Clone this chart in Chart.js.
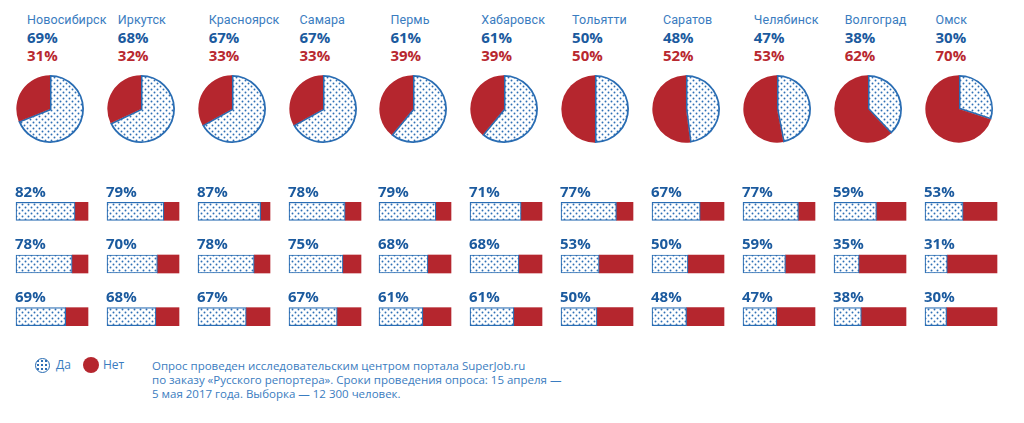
<!DOCTYPE html>
<html><head><meta charset="utf-8">
<script src="https://cdn.jsdelivr.net/npm/chart.js@4/dist/chart.umd.min.js"></script>
<style>
body{margin:0;background:#fff;width:1024px;height:423px;overflow:hidden;position:relative;font-family:"Open Sans","Noto Sans",sans-serif;}
.abs{position:absolute;}
.city{font-family:Roboto,"Open Sans",sans-serif;font-size:12.5px;color:#3a7cc0;white-space:nowrap;line-height:16px;letter-spacing:0.1px;}
.py{font-size:15px;font-weight:700;color:#1b5a9e;line-height:18px;}
.pn{font-size:15px;font-weight:700;color:#b8282f;line-height:18px;}
.note{font-size:11.5px;color:#3a7cc0;line-height:14px;white-space:nowrap;}
.leg{font-size:12px;color:#3a7cc0;line-height:14px;}
</style></head><body>
<script>
const cities = ['Новосибирск','Иркутск','Красноярск','Самара','Пермь','Хабаровск','Тольятти','Саратов','Челябинск','Волгоград','Омск'];
const pieYes = [69,68,67,67,61,61,50,48,47,38,30];
const pieNo  = [31,32,33,33,39,39,50,52,53,62,70];
const barRow1 = [82,79,87,78,79,71,77,67,77,59,53];
const barRow2 = [78,70,78,75,68,68,53,50,59,35,31];
const barRow3 = [69,68,67,67,61,61,50,48,47,38,30];
const legendLabels = ['Да','Нет'];

const BLUE = '#2a6db3', RED = '#b5262e';
function makePattern(){
  const c = document.createElement('canvas'); c.width = 6; c.height = 6;
  const g = c.getContext('2d');
  g.fillStyle = '#fff'; g.fillRect(0,0,6,6);
  g.fillStyle = '#2f6fb5';
  [[1.5,1.5],[4.5,4.5]].forEach(p=>{g.beginPath();g.arc(p[0],p[1],0.95,0,Math.PI*2);g.fill();});
  return g.createPattern(c,'repeat');
}
const pat = makePattern();

function el(tag, cls, x, y, txt){
  const d = document.createElement(tag); d.className = 'abs ' + cls;
  d.style.left = x + 'px'; d.style.top = y + 'px';
  if (txt !== undefined) d.textContent = txt;
  document.body.appendChild(d); return d;
}

const step = 90.85;
const labelPlugin = {
  id:'lbl',
  afterDatasetsDraw(chart){
    const ctx = chart.ctx; const meta = chart.getDatasetMeta(0);
    ctx.save(); ctx.font = '700 15px "Open Sans", sans-serif'; ctx.fillStyle = '#1b5a9e';
    ctx.textBaseline = 'middle'; ctx.textAlign = 'left';
    meta.data.forEach((b,i)=>{
      const v = chart.data.datasets[0].data[i];
      ctx.fillText(v + '%', chart.chartArea.left - 1, b.y - 19);
    });
    ctx.restore();
  }
};

cities.forEach((name,i)=>{
  const x0 = 16 + i*step;
  el('div','city', x0 + 11, 12, name);
  el('div','py', x0 + 11, 28, pieYes[i] + '%');
  el('div','pn', x0 + 11, 46, pieNo[i] + '%');

  const pc = el('canvas','', x0 - 2, 73); pc.width = 72; pc.height = 72;
  pc.style.width='72px'; pc.style.height='72px';
  new Chart(pc, {
    type:'pie',
    data:{labels:legendLabels, datasets:[{data:[pieYes[i], pieNo[i]], backgroundColor:[pat, RED], borderColor:[BLUE, RED], borderWidth:[1.5,0], borderAlign:'inner'}]},
    options:{responsive:false, animation:false, layout:{padding:2}, plugins:{legend:{display:false}, tooltip:{enabled:false}}}
  });

  const bc = el('canvas','', x0 - 1, 185); bc.width = 74; bc.height = 158;
  bc.style.width='74px'; bc.style.height='158px';
  const yes = [barRow1[i], barRow2[i], barRow3[i]];
  new Chart(bc, {
    type:'bar',
    data:{labels:['1','2','3'], datasets:[
      {label:legendLabels[0], data:yes, backgroundColor:pat, borderColor:BLUE, borderWidth:1.2, borderSkipped:false, barThickness:18, clip:false},
      {label:legendLabels[1], data:yes.map(v=>100-v), backgroundColor:RED, borderWidth:0, barThickness:18, clip:false}
    ]},
    options:{indexAxis:'y', responsive:false, animation:false, layout:{padding:{left:1,right:1,top:0,bottom:0}},
      scales:{x:{stacked:true, min:0, max:100, display:false}, y:{stacked:true, display:false}},
      plugins:{legend:{display:false}, tooltip:{enabled:false}}},
    plugins:[labelPlugin]
  });
});

// legend
const l1 = el('div','', 35, 358); Object.assign(l1.style,{width:'15px',height:'15px',borderRadius:'50%',border:'1.5px solid '+BLUE,boxSizing:'border-box',background:'radial-gradient(circle, #2f6fb5 1px, transparent 1.4px) 0 0/4px 4px, #fff'});
el('div','leg', 56, 358, legendLabels[0]);
const l2 = el('div','', 83, 357); Object.assign(l2.style,{width:'16px',height:'16px',borderRadius:'50%',background:RED});
el('div','leg', 103, 358, legendLabels[1]);
el('div','note', 152, 359, 'Опрос проведен исследовательским центром портала SuperJob.ru');
el('div','note', 152, 373, 'по заказу «Русского репортера».  Сроки проведения опроса: 15 апреля —');
el('div','note', 152, 387, '5 мая 2017 года. Выборка — 12 300 человек.');
</script>
</body></html>
